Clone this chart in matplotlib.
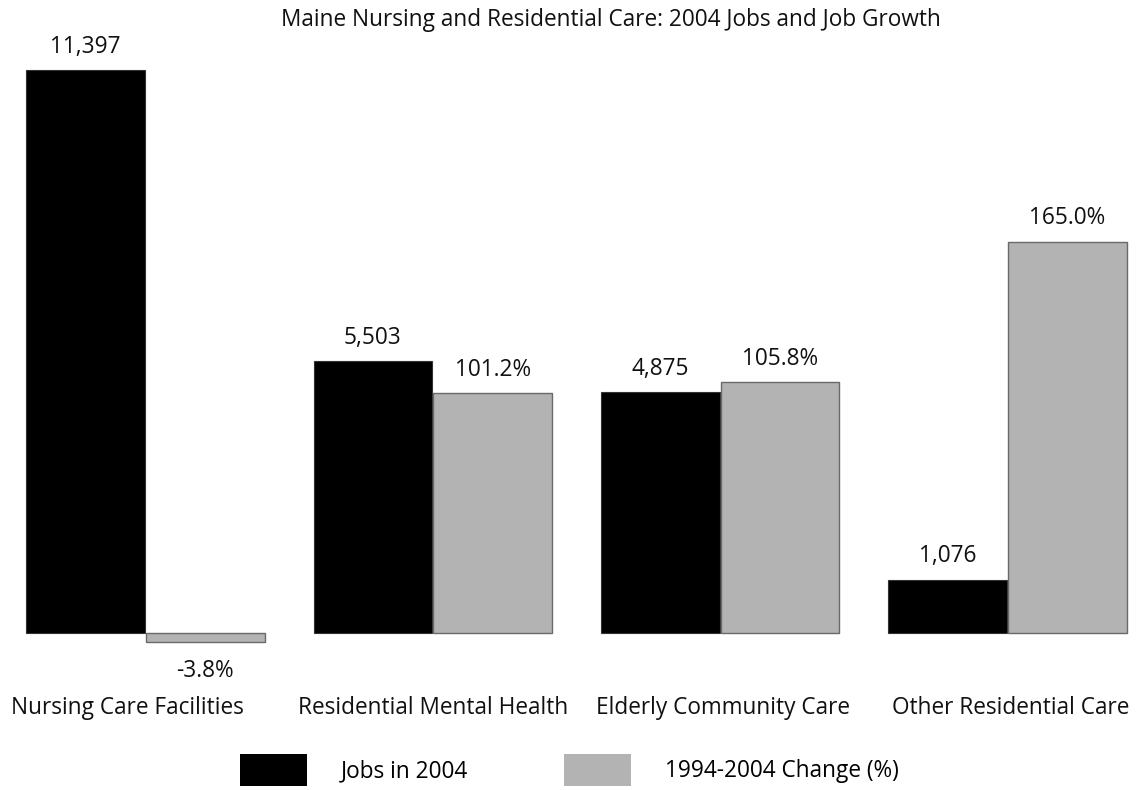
import matplotlib
matplotlib.use("Agg")
import matplotlib.pyplot as plt
from matplotlib.transforms import offset_copy
import numpy as np

categories = ["Nursing Care Facilities", "Residential Mental Health",
              "Elderly Community Care", "Other Residential Care"]
jobs_2004 = [11397, 5503, 4875, 1076]
change_pct = [-3.8, 101.2, 105.8, 165.0]
jobs_labels = ["11,397", "5,503", "4,875", "1,076"]
change_labels = ["-3.8%", "101.2%", "105.8%", "165.0%"]
title = "Maine Nursing and Residential Care: 2004 Jobs and Job Growth"
legend_labels = ["Jobs in 2004", "1994-2004 Change (%)"]

plt.rcParams['font.family'] = ['Open Sans', 'DejaVu Sans']
FS = 16.3
TXT = "#111111"

W, H = 1137, 790
fig = plt.figure(figsize=(W / 100, H / 100), dpi=100)
ax = fig.add_axes([0, 0, 1, 1])
ax2 = ax.twinx()

x = np.arange(len(categories))
spacing_px = 287.3
center0_px = 145.5
base_px = 157.0  # baseline, pixels from bottom
ax.set_xlim(-center0_px / spacing_px, (W - center0_px) / spacing_px)
jscale = 563 / 11397.0
pscale = 391 / 165.0
ax.set_ylim(-base_px / jscale, (H - base_px) / jscale)
ax2.set_ylim(-base_px / pscale, (H - base_px) / pscale)

bw = 0.413
off = 0.2085
b1 = ax.bar(x - off, jobs_2004, width=bw, color="black", edgecolor="#333333", linewidth=0.8)
b2 = ax2.bar(x + off, change_pct, width=bw, color="#b3b3b3", edgecolor="#6a6a6a", linewidth=1.0)

for a in (ax, ax2):
    a.axis("off")

# value labels (offset in points from the bar end)
pad_up = 23.5 * 0.72
pad_dn = 28.5 * 0.72
for xi, v, lab in zip(x, jobs_2004, jobs_labels):
    tr = offset_copy(ax.transData, fig=fig, x=0, y=pad_up, units="points")
    ax.text(xi - off, v, lab, ha="center", va="center", fontsize=FS, color=TXT, transform=tr)
for xi, v, lab in zip(x, change_pct, change_labels):
    dy = pad_up if v >= 0 else -pad_dn
    tr = offset_copy(ax2.transData, fig=fig, x=0, y=dy, units="points")
    ax2.text(xi + off, v, lab, ha="center", va="center", fontsize=FS, color=TXT, transform=tr)

# category labels below baseline
label_nudge_px = [-18, 0, 3, 3]
for xi, lab, nx in zip(x, categories, label_nudge_px):
    tr = offset_copy(ax.transData, fig=fig, x=nx * 0.72, y=-(708 - 633) * 0.72, units="points")
    ax.text(xi, 0, lab, ha="center", va="center", fontsize=FS, color=TXT, transform=tr)

fig.text(611 / W, 1 - 20 / H, title, ha="center", va="center", fontsize=FS, color=TXT)

fpx = FS * 100 / 72
leg = fig.legend([b1, b2], legend_labels, loc="upper left",
                 bbox_to_anchor=(240 / W, 1 - 754 / H), ncol=2, frameon=False,
                 fontsize=FS, handlelength=67 / fpx, handleheight=40 / fpx,
                 handletextpad=34 / fpx, columnspacing=96 / fpx,
                 borderpad=0, borderaxespad=0)
for h in leg.legend_handles:
    h.set_edgecolor("none")

fig.savefig("out.png", dpi=100)
